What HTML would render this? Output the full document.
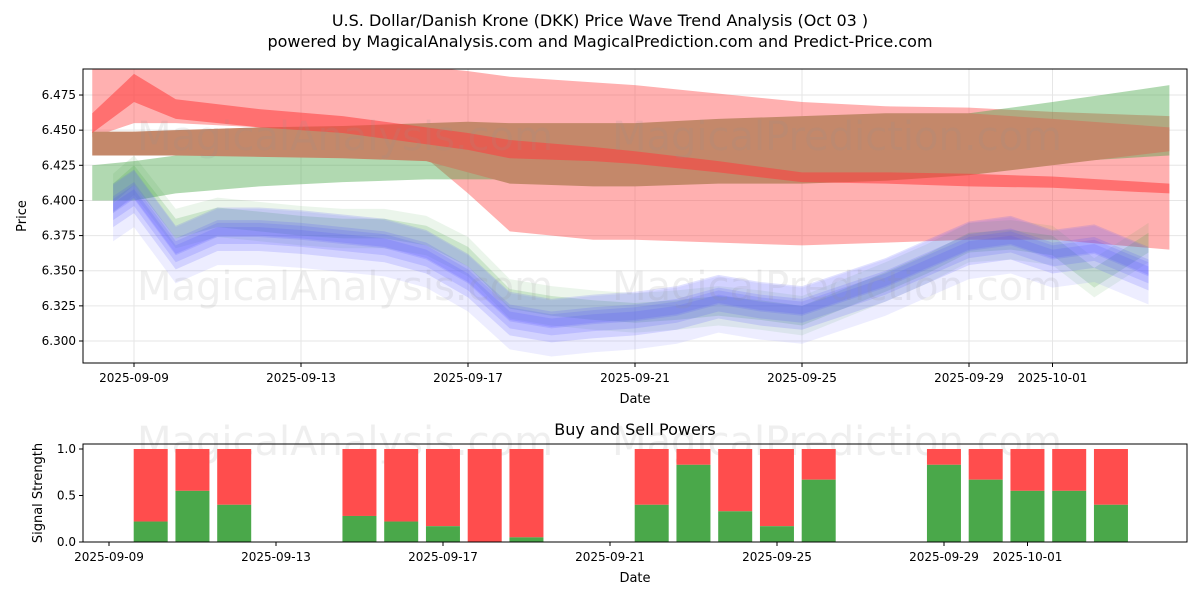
<!DOCTYPE html>
<html><head><meta charset="utf-8">
<style>
body{margin:0;background:#fff;font-family:"Liberation Sans","DejaVu Sans",sans-serif;}
svg text{font-family:"DejaVu Sans","Liberation Sans",sans-serif;}
</style></head>
<body>
<svg id="chart" width="1200" height="600" xmlns="http://www.w3.org/2000/svg">
<rect width="1200" height="600" fill="#fff"/>
<text x="600" y="26" font-size="16" text-anchor="middle">U.S. Dollar/Danish Krone (DKK) Price Wave Trend Analysis (Oct 03 )</text>
<text x="600" y="47" font-size="16" text-anchor="middle">powered by MagicalAnalysis.com and MagicalPrediction.com and Predict-Price.com</text>
<g id="main"></g>
<g id="sub"></g>
</svg>
<script>
const tickDays=[0,4,8,12,16,20,22];
const tickLabels=["2025-09-09","2025-09-13","2025-09-17","2025-09-21","2025-09-25","2025-09-29","2025-10-01"];
const priceTicks=[6.300,6.325,6.350,6.375,6.400,6.425,6.450,6.475];
const bandDays=[-1,0,1,3,5,7,8,9,11,12,14,16,18,20,22,24.8];
const redOuterTop=[6.495,6.495,6.495,6.495,6.495,6.495,6.492,6.488,6.484,6.482,6.476,6.470,6.467,6.466,6.463,6.460];
const redOuterBot=[6.445,6.455,6.455,6.452,6.447,6.430,6.405,6.378,6.372,6.372,6.370,6.368,6.370,6.372,6.372,6.365];
const redInnerTop=[6.462,6.490,6.472,6.465,6.460,6.452,6.448,6.443,6.438,6.435,6.428,6.420,6.420,6.419,6.417,6.412];
const redInnerBot=[6.448,6.470,6.458,6.452,6.448,6.440,6.436,6.430,6.428,6.426,6.420,6.413,6.412,6.410,6.409,6.405];
const greenTop=[6.425,6.428,6.432,6.438,6.440,6.440,6.437,6.432,6.430,6.430,6.425,6.418,6.440,6.462,6.470,6.482];
const greenBot=[6.400,6.400,6.405,6.410,6.413,6.415,6.415,6.415,6.415,6.415,6.415,6.416,6.420,6.424,6.427,6.432];
const brownTop=[6.449,6.449,6.450,6.452,6.453,6.455,6.456,6.455,6.455,6.455,6.458,6.460,6.462,6.462,6.458,6.452];
const brownBot=[6.432,6.432,6.432,6.431,6.430,6.428,6.420,6.412,6.410,6.410,6.412,6.412,6.414,6.418,6.425,6.435];
const waveDays=[-0.5,0,1,2,3,4,5,6,7,8,9,10,11,12,13,14,15,16,17,18,19,20,21,22,23,24.3];
const waveMid=[6.395,6.405,6.365,6.378,6.378,6.376,6.373,6.370,6.362,6.345,6.318,6.313,6.316,6.318,6.322,6.330,6.325,6.322,6.332,6.342,6.355,6.368,6.372,6.362,6.366,6.350];
const greenWave=[6.405,6.418,6.380,6.388,6.385,6.382,6.380,6.380,6.375,6.360,6.330,6.325,6.322,6.320,6.322,6.325,6.322,6.318,6.330,6.342,6.355,6.370,6.372,6.368,6.345,6.370];
const sigDays=[0,1,2,5,6,7,8,9,12,13,14,15,16,19,20,21,22,23];
const buyPower=[0.22,0.55,0.40,0.28,0.22,0.17,0.0,0.05,0.40,0.83,0.33,0.17,0.67,0.83,0.67,0.55,0.55,0.40];

const NS="http://www.w3.org/2000/svg";
const L=83,R=1187;
const xd=d=>134+d*41.75;
const yp=v=>341-(v-6.3)/0.025*35.14;
const ys=v=>542-v*93;
function mk(p,tag,attrs){const e=document.createElementNS(NS,tag);for(const k in attrs)e.setAttribute(k,attrs[k]);p.appendChild(e);return e;}
const main=document.getElementById('main'),sub=document.getElementById('sub');

priceTicks.forEach(v=>{const l=mk(main,'line',{x1:L,x2:R,y1:yp(v),y2:yp(v),stroke:'#e6e6e6'});

});
tickDays.forEach(d=>{const l=mk(main,'line',{x1:xd(d),x2:xd(d),y1:69,y2:363,stroke:'#e6e6e6'});

});

const clip=mk(main,'clipPath',{id:'mc'});mk(clip,'rect',{x:L,y:69,width:R-L,height:294});
const gclip=mk(main,'g',{'clip-path':'url(#mc)'});
function bandC(top,bot,days,fill,name){
  let pts=days.map((d,i)=>xd(d)+','+yp(top[i]));
  for(let i=days.length-1;i>=0;i--)pts.push(xd(days[i])+','+yp(bot[i]));
  const p=mk(gclip,'polygon',{points:pts.join(' '),fill:fill});
  
  
}
bandC(redOuterTop,redOuterBot,bandDays,'rgba(255,80,80,0.45)','red-outer-band');
bandC(greenTop,greenBot,bandDays,'rgba(60,160,60,0.4)','green-band');
bandC(brownTop,brownBot,bandDays,'rgba(196,136,106,1)','overlap-band');
bandC(redInnerTop,redInnerBot,bandDays,'rgba(255,60,60,0.55)','red-inner-band');
[0.014,0.007].forEach((w,k)=>bandC(greenWave.map(v=>v+w),greenWave.map(v=>v-w),waveDays,k?'rgba(60,160,60,0.18)':'rgba(60,160,60,0.1)','green-wave-band'));
const bw=[[-0.004,0.02],[0.004,0.013],[-0.004,0.01],[0.002,0.006],[0,0.003]];
bw.forEach((o,k)=>bandC(waveMid.map(v=>v+o[0]+o[1]),waveMid.map(v=>v+o[0]-o[1]),waveDays,k?'rgba(80,80,255,0.17)':'rgba(110,110,255,0.12)','blue-wave-band'));

[[345,150],[837,150],[345,300],[837,300]].forEach((p,i)=>{const t=mk(main,'text',{x:p[0],y:p[1],'font-size':40,'text-anchor':'middle',fill:'rgba(150,150,150,0.15)'});t.textContent=i%2?'MagicalPrediction.com':'MagicalAnalysis.com';

});

const fr=mk(main,'rect',{x:L,y:69,width:R-L,height:294,fill:'none',stroke:'#000'});


priceTicks.forEach(v=>{mk(main,'line',{x1:L-4,x2:L,y1:yp(v),y2:yp(v),stroke:'#000'});
const t=mk(main,'text',{x:L-7,y:yp(v)+4,'font-size':12,'text-anchor':'end'});t.textContent=v.toFixed(3);

});
tickDays.forEach((d,i)=>{mk(main,'line',{x1:xd(d),x2:xd(d),y1:363,y2:367,stroke:'#000'});
const t=mk(main,'text',{x:xd(d),y:382,'font-size':12,'text-anchor':'middle'});t.textContent=tickLabels[i];

});
let t=mk(main,'text',{x:635,y:403,'font-size':13,'text-anchor':'middle'});t.textContent='Date';


t=mk(main,'text',{x:26,y:216,'font-size':13,'text-anchor':'middle',transform:'rotate(-90 26 216)'});t.textContent='Price';



t=mk(sub,'text',{x:635,y:435,'font-size':16,'text-anchor':'middle'});t.textContent='Buy and Sell Powers';


[[345,455],[837,455]].forEach((p,i)=>{const w=mk(sub,'text',{x:p[0],y:p[1],'font-size':40,'text-anchor':'middle',fill:'rgba(150,150,150,0.15)'});w.textContent=i?'MagicalPrediction.com':'MagicalAnalysis.com';

});
sigDays.forEach((d,i)=>{const cx=xd(d+0.4),w=34;
const s=mk(sub,'rect',{x:cx-w/2,y:ys(1),width:w,height:ys(buyPower[i])-ys(1),fill:'#ff4d4d'});


const b=mk(sub,'rect',{x:cx-w/2,y:ys(buyPower[i]),width:w,height:ys(0)-ys(buyPower[i]),fill:'#4aa84a'});

});
const fr2=mk(sub,'rect',{x:L,y:444,width:R-L,height:98,fill:'none',stroke:'#000'});


[0,0.5,1].forEach(v=>{mk(sub,'line',{x1:L-4,x2:L,y1:ys(v),y2:ys(v),stroke:'#000'});
const tt=mk(sub,'text',{x:L-7,y:ys(v)+4,'font-size':12,'text-anchor':'end'});tt.textContent=v.toFixed(1);

});
tickDays.forEach((d,i)=>{mk(sub,'line',{x1:xd(d)-25,x2:xd(d)-25,y1:542,y2:546,stroke:'#000'});
const tt=mk(sub,'text',{x:xd(d)-25,y:561,'font-size':12,'text-anchor':'middle'});tt.textContent=tickLabels[i];

});
t=mk(sub,'text',{x:635,y:582,'font-size':13,'text-anchor':'middle'});t.textContent='Date';


t=mk(sub,'text',{x:42,y:493,'font-size':13,'text-anchor':'middle',transform:'rotate(-90 42 493)'});t.textContent='Signal Strength';


</script>
</body></html>
